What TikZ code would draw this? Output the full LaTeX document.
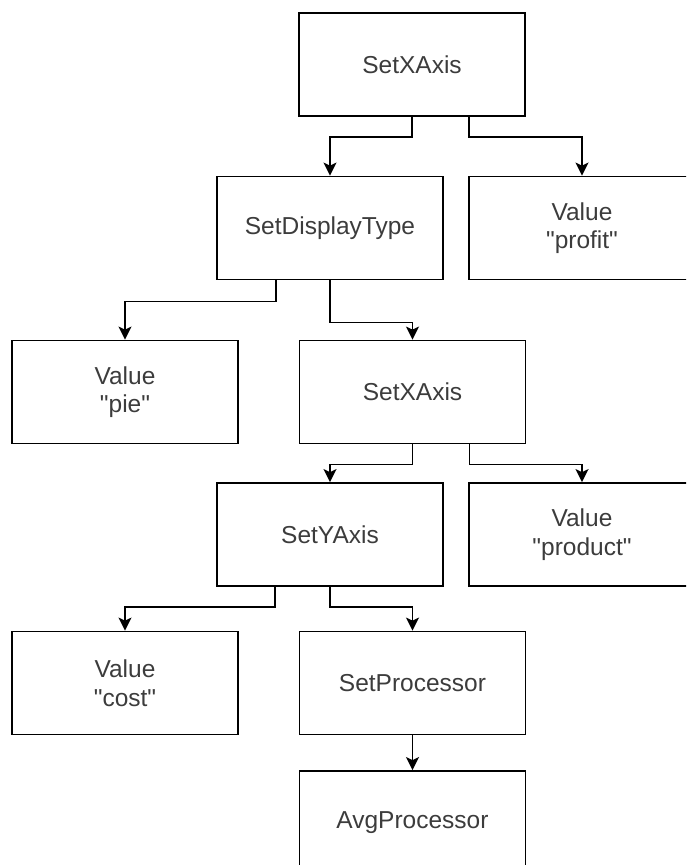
\documentclass[tikz,border=0pt]{standalone}
\usepackage{fontspec}
\setmainfont{Liberation Sans}
\newfontfamily\lsans{Liberation Sans}[Ligatures=ResetAll]
\usetikzlibrary{arrows.meta}
\definecolor{txt}{RGB}{60,60,60}
\newcommand{\qt}{\symbol{34}}
\tikzset{
  box/.style={draw=black, line width=1.8pt, rectangle, minimum width=226pt, minimum height=103pt,
    inner sep=0pt, align=center, text=txt, font=\lsans\fontsize{24.5}{28.5}\selectfont},
  conn/.style={draw=black, line width=1.8pt, -{Stealth[length=13pt,width=13pt,inset=3pt]}},
}
\begin{document}
\begin{tikzpicture}[x=1pt,y=-1pt]
\useasboundingbox (0,0) rectangle (686,865);
\clip (0,0) rectangle (686,865);
\node[box] (top) at (412,64.5) {SetXAxis};
\node[box] (disp) at (330,228) {SetDisplayType};
\node[box] (profit) at (582,228) {Value\\\qt profit\qt};
\node[box] (pie) at (125,392) {Value\\\qt pie\qt};
\node[box] (xax) at (412.5,392) {SetXAxis};
\node[box] (yax) at (330,534.5) {SetYAxis};
\node[box] (product) at (582,534.5) {Value\\\qt product\qt};
\node[box] (cost) at (125,683) {Value\\\qt cost\qt};
\node[box] (proc) at (412.5,683) {SetProcessor};
\node[box] (avg) at (412.5,822.5) {AvgProcessor};
% top
\draw[conn] (top.south) -- ++(0,20) -| (disp.north);
\draw[conn] ([xshift=57pt]top.south) -- ++(0,20) -| (profit.north);
% display type
\draw[conn] ([xshift=-54pt]disp.south) -- ++(0,21) -| (pie.north);
\draw[conn] (disp.south) -- ++(0,42) -| (xax.north);
% xaxis2
\draw[conn] (xax.south) -- ++(0,20) -| (yax.north);
\draw[conn] ([xshift=57pt]xax.south) -- ++(0,20) -| (product.north);
% yaxis
\draw[conn] ([xshift=-55pt]yax.south) -- ++(0,20) -| (cost.north);
\draw[conn] (yax.south) -- ++(0,20) -| (proc.north);
% processor
\draw[conn] (proc.south) -- (avg.north);
\end{tikzpicture}
\end{document}
